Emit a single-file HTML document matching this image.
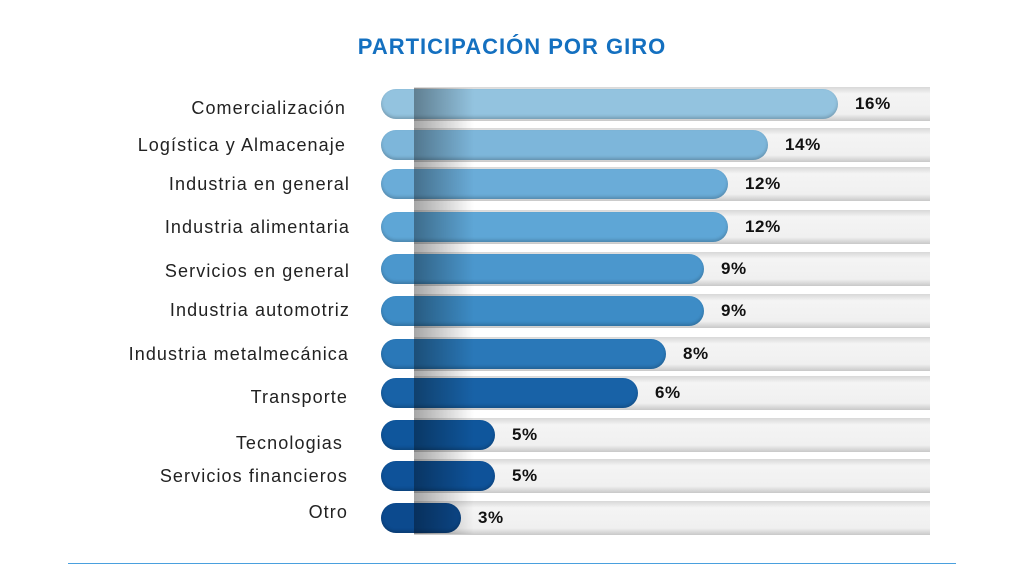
<!DOCTYPE html><html><head><style>
body{margin:0;width:1024px;height:579px;background:#fff;position:relative;overflow:hidden;font-family:"Liberation Sans",sans-serif}
.t{position:absolute;top:34px;left:0;width:1024px;text-align:center;color:#1470c0;font-weight:bold;font-size:22px;letter-spacing:1px}
.tr{position:absolute;left:414px;width:516px;height:34px;background:linear-gradient(#d8d8d8,#f4f4f4 20%,#f0f0f0 80%,#c8c8c8)}
.b{position:absolute;left:381px;height:30px;border-radius:15px;box-shadow:inset 0 -2px 3px rgba(0,0,0,.2)}
.l{position:absolute;font-size:18px;letter-spacing:1.1px;color:#222;line-height:20px;white-space:nowrap}
.p{position:absolute;font-weight:bold;font-size:17px;letter-spacing:.6px;color:#111;line-height:20px}
.sh{position:absolute;left:414px;top:88px;width:60px;height:446px;background:linear-gradient(90deg,rgba(0,0,0,.35),rgba(0,0,0,0))}
</style></head><body>
<div class="t">PARTICIPACIÓN POR GIRO</div>
<div id="c"></div>
<div class="sh"></div>
<div style="position:absolute;left:68px;top:563px;width:888px;height:1px;background:#4aa0de"></div>
<script>
var d=[["Comercialización",104,838,"16%","#93c3df",108,678],["Logística y Almacenaje",145,768,"14%","#7db6da",145,678],["Industria en general",184,728,"12%","#6aacd8",184,674],["Industria alimentaria",227,728,"12%","#5ea6d6",227,674],["Servicios en general",269,704,"9%","#4b97cd",271,674],["Industria automotriz",311,704,"9%","#3d8cc6",310,674],["Industria metalmecánica",354,666,"8%","#2a78b8",354,675],["Transporte",393,638,"6%","#1862a7",397,676],["Tecnologias",435,495,"5%","#0f569c",443,681],["Servicios financieros",476,495,"5%","#0e5299",476,676],["Otro",518,461,"3%","#0c4a8e",512,676]];
var h="";d.forEach(function(r){var y=r[1];
h+='<div class="tr" style="top:'+(y-17)+'px"></div>';
h+='<div class="b" style="top:'+(y-15)+'px;width:'+(r[2]-381)+'px;background:'+r[4]+'"></div>';
h+='<div class="l" style="top:'+(r[5]-10)+'px;right:'+r[6]+'px">'+r[0]+'</div>';
h+='<div class="p" style="top:'+(y-10)+'px;left:'+(r[2]+17)+'px">'+r[3]+'</div>';});
document.getElementById("c").innerHTML=h;
</script></body></html>
